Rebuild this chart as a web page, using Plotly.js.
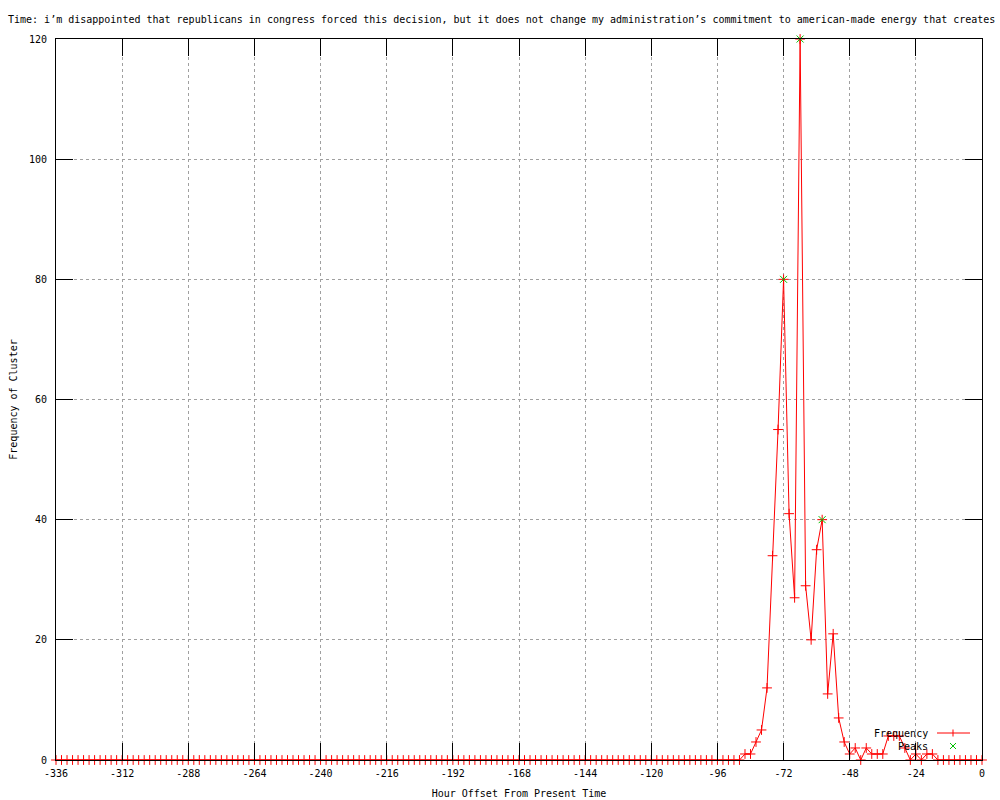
<!DOCTYPE html>
<html>
<head>
<meta charset="utf-8">
<script src="https://cdn.plot.ly/plotly-3.0.1.min.js"></script>
<style>html,body{margin:0;padding:0;background:#fff;}#chart{width:1000px;height:800px;}</style>
</head>
<body>
<div id="chart"></div>
<script>
// Hour offsets (x) of each bin
const hours = [
-336,-334,-332,-330,-328,-326,-324,-322,-320,-318,-316,-314,-312,-310,-308,-306,-304,-302,-300,-298,
-296,-294,-292,-290,-288,-286,-284,-282,-280,-278,-276,-274,-272,-270,-268,-266,-264,-262,-260,-258,
-256,-254,-252,-250,-248,-246,-244,-242,-240,-238,-236,-234,-232,-230,-228,-226,-224,-222,-220,-218,
-216,-214,-212,-210,-208,-206,-204,-202,-200,-198,-196,-194,-192,-190,-188,-186,-184,-182,-180,-178,
-176,-174,-172,-170,-168,-166,-164,-162,-160,-158,-156,-154,-152,-150,-148,-146,-144,-142,-140,-138,
-136,-134,-132,-130,-128,-126,-124,-122,-120,-118,-116,-114,-112,-110,-108,-106,-104,-102,-100,-98,
-96,-94,-92,-90,-88,-86,-84,-82,-80,-78,-76,-74,-72,-70,-68,-66,-64,-62,-60,-58,
-56,-54,-52,-50,-48,-46,-44,-42,-40,-38,-36,-34,-32,-30,-28,-26,-24,-22,-20,-18,
-16,-14,-12,-10,-8,-6,-4,-2,0
];
// Frequency of cluster in each bin
const frequency = [
0,0,0,0,0,0,0,0,0,0,0,0,0,0,0,0,0,0,0,0,
0,0,0,0,0,0,0,0,0,0,0,0,0,0,0,0,0,0,0,0,
0,0,0,0,0,0,0,0,0,0,0,0,0,0,0,0,0,0,0,0,
0,0,0,0,0,0,0,0,0,0,0,0,0,0,0,0,0,0,0,0,
0,0,0,0,0,0,0,0,0,0,0,0,0,0,0,0,0,0,0,0,
0,0,0,0,0,0,0,0,0,0,0,0,0,0,0,0,0,0,0,0,
0,0,0,0,0,1,1,3,5,12,34,55,80,41,27,120,29,20,35,40,
11,21,7,3,1,2,0,2,1,1,1,4,4,4,2,0,1,0,1,1,
0,0,0,0,0,0,0,0,0
];
// Detected peaks
const peakHours = [-72, -66, -58];
const peakValues = [80, 120, 40];

const xTicks = [-336,-312,-288,-264,-240,-216,-192,-168,-144,-120,-96,-72,-48,-24,0];
const yTicks = [0,20,40,60,80,100,120];

const titleText = "Time: i\u2019m disappointed that republicans in congress forced this decision, but it does not change my administration\u2019s commitment to american-made energy that creates";

const FONT = "DejaVu Sans Mono, monospace";
const RED = "#ff0000";
const GREEN = "#00c000";

// plot area in pixels
const L = 56, R = 982, T = 39, B = 760;
const px = x => (x - L) / (R - L);
const py = y => (B - y) / (B - T);

const traces = [
  {
    x: hours, y: frequency, type: "scatter", mode: "lines+markers", name: "Frequency",
    line: {color: RED, width: 1},
    marker: {symbol: "cross-thin-open", size: 7, line: {color: RED, width: 1}, color: RED},
    cliponaxis: false, showlegend: false
  },
  {
    x: peakHours, y: peakValues, type: "scatter", mode: "markers", name: "Peaks",
    marker: {symbol: "x-thin-open", size: 7, line: {color: GREEN, width: 1}, color: GREEN},
    cliponaxis: false, showlegend: false
  }
];

const axisCommon = {
  showline: true, linecolor: "#000", linewidth: 1, mirror: "ticks",
  ticks: "inside", ticklen: 17, tickwidth: 1, tickcolor: "#000",
  showgrid: true, gridcolor: "#a0a0a0", griddash: "3px,3px", gridwidth: 1,
  zeroline: false, tickfont: {family: FONT, size: 10, color: "#000"}
};

const layout = {
  width: 1000, height: 800,
  margin: {l: L, r: 1000 - R, t: T, b: 800 - B},
  paper_bgcolor: "#fff", plot_bgcolor: "#fff",
  font: {family: FONT, size: 10, color: "#000"},
  title: {text: titleText, xref: "container", x: 0.008, xanchor: "left", yref: "container", y: 1 - 19/800, yanchor: "middle",
          font: {family: FONT, size: 10, color: "#000"}},
  xaxis: Object.assign({}, axisCommon, {
    range: [-336, 0], tickvals: xTicks, ticktext: xTicks.map(String),
    ticklabelstandoff: 4,
    title: {text: "Hour Offset From Present Time", font: {family: FONT, size: 10}, standoff: 11}
  }),
  yaxis: Object.assign({}, axisCommon, {
    range: [0, 120], tickvals: yTicks, ticktext: yTicks.map(String),
    ticklabelstandoff: 6,
    title: {text: "Frequency of Cluster", font: {family: FONT, size: 10}, standoff: 9}
  }),
  showlegend: false,
  annotations: [
    {xref: "paper", yref: "paper", x: px(930), y: py(733), xanchor: "right", yanchor: "middle", text: "Frequency", showarrow: false, font: {family: FONT, size: 10, color: "#000"}},
    {xref: "paper", yref: "paper", x: px(930), y: py(746), xanchor: "right", yanchor: "middle", text: "Peaks", showarrow: false, font: {family: FONT, size: 10, color: "#000"}}
  ],
  shapes: [
    {type: "line", xref: "paper", yref: "paper", x0: px(937), x1: px(970), y0: py(733), y1: py(733), line: {color: RED, width: 1}},
    {type: "line", xref: "paper", yref: "paper", x0: px(953), x1: px(953), y0: py(729.5), y1: py(736.5), line: {color: RED, width: 1}},
    {type: "line", xref: "paper", yref: "paper", x0: px(950), x1: px(956), y0: py(743), y1: py(749), line: {color: GREEN, width: 1}},
    {type: "line", xref: "paper", yref: "paper", x0: px(950), x1: px(956), y0: py(749), y1: py(743), line: {color: GREEN, width: 1}}
  ]
};

Plotly.newPlot("chart", traces, layout, {displayModeBar: false, staticPlot: true});
</script>
</body>
</html>
